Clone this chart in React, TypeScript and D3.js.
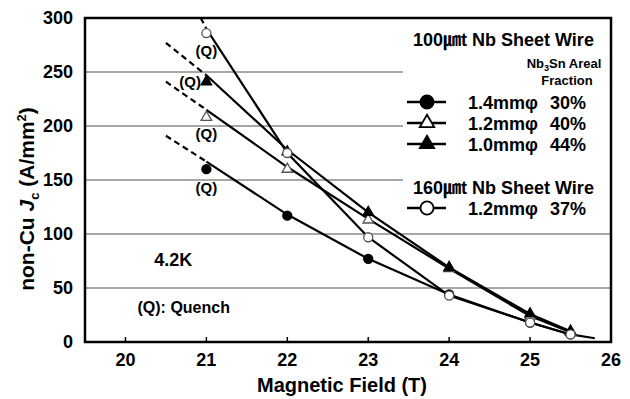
import React from "react";
import * as d3 from "d3";

type P = [number, number];

// x: magnetic field (T), y: non-Cu Jc (A/mm2)
const FIELD_TICKS = [20, 21, 22, 23, 24, 25, 26];
const JC_TICKS = [0, 50, 100, 150, 200, 250, 300];

// 100um Nb sheet wire 1.4mm 30% (filled circle)
const S30_DASH: P[] = [[20.5, 191], [21, 167]];
const S30_LINE: P[] = [[21, 167], [22, 118], [23, 77], [24, 44], [25, 18], [25.5, 7]];
const S30_PTS: P[] = [[21, 160], [22, 117], [23, 77], [24, 44], [25, 18], [25.5, 7]];

// 100um Nb sheet wire 1.2mm 40% (open triangle)
const S40_DASH: P[] = [[20.5, 241], [21, 215]];
const S40_LINE: P[] = [[21, 215], [22, 162], [23, 114], [24, 68], [25, 24], [25.5, 9]];
const S40_PTS: P[] = [[21, 208], [22, 160], [23, 113], [24, 68], [25, 24], [25.5, 9]];

// 100um Nb sheet wire 1.0mm 44% (filled triangle)
const S44_DASH: P[] = [[20.5, 277], [21, 247]];
const S44_LINE: P[] = [[21, 247], [22, 178], [23, 120], [24, 69], [25, 26], [25.5, 10]];
const S44_PTS: P[] = [[21, 241], [22, 176], [23, 120], [24, 69], [25, 26], [25.5, 10]];

// 160um Nb sheet wire 1.2mm 37% (open circle)
const S37_DASH: P[] = [[20.93, 300], [21, 290]];
const S37_LINE: P[] = [[21, 290], [22, 175], [23, 97], [24, 43], [25, 18], [25.5, 7], [25.8, 3.5]];
const S37_PTS: P[] = [[21, 286], [22, 175], [23, 97], [24, 43], [25, 18], [25.5, 7]];

// quench annotations (field, Jc)
const Q_LABELS: P[] = [[21, 270], [20.8, 241], [21, 193], [21, 143]];

const LEGEND_SIZES = ["1.4mmφ", "1.2mmφ", "1.0mmφ", "1.2mmφ"];
const LEGEND_PCTS = ["30%", "40%", "44%", "37%"];

const FONT = "'Liberation Sans', Arial, 'Noto Sans CJK JP', sans-serif";

const W = 630;
const H = 399;
const L = 85, R = 611, T = 18, B = 342;

export default function App() {
  const x = d3.scaleLinear().domain([19.5, 26]).range([L, R]);
  const y = d3.scaleLinear().domain([0, 300]).range([B, T]);
  const line = d3.line<P>().x((d) => x(d[0])).y((d) => y(d[1]));

  const circle = d3.symbol(d3.symbolCircle, 64)();
  const tri = d3.symbol(d3.symbolTriangle, 48)();
  const circleL = d3.symbol(d3.symbolCircle, 135)();
  const triL = d3.symbol(d3.symbolTriangle, 90)();

  const series = [
    { dash: S30_DASH, line: S30_LINE, pts: S30_PTS, shape: "circle", fill: true },
    { dash: S40_DASH, line: S40_LINE, pts: S40_PTS, shape: "tri", fill: false },
    { dash: S44_DASH, line: S44_LINE, pts: S44_PTS, shape: "tri", fill: true },
    { dash: S37_DASH, line: S37_LINE, pts: S37_PTS, shape: "circle", fill: false },
  ];

  const gridEnd = (v: number) => (v >= 150 ? 403 : R);

  const legendRowsY = [102, 123, 144, 208];
  const legendShapes = [
    { shape: "circle", fill: true },
    { shape: "tri", fill: false },
    { shape: "tri", fill: true },
    { shape: "circle", fill: false },
  ];

  return (
    <svg
      width={W}
      height={H}
      style={{ position: "absolute", left: 0, top: 0, background: "#fff" }}
      fontFamily={FONT}
      fontWeight="bold"
    >
      <rect x={0} y={0} width={W} height={H} fill="#fff" />
      {/* grid */}
      {JC_TICKS.filter((v) => v > 0 && v < 300).map((v) => (
        <line key={v} x1={L} x2={gridEnd(v)} y1={y(v)} y2={y(v)} stroke="#8a8a8a" strokeWidth={1.5} />
      ))}

      {/* x ticks */}
      {FIELD_TICKS.slice(0, -1).map((v) => (
        <line key={v} x1={x(v)} x2={x(v)} y1={B} y2={B - 5} stroke="#000" strokeWidth={1.5} />
      ))}

      {/* series lines */}
      {series.map((s, i) => (
        <g key={i}>
          <path d={line(s.dash) || ""} fill="none" stroke="#000" strokeWidth={2.2} strokeDasharray="6,4" />
          <path d={line(s.line) || ""} fill="none" stroke="#000" strokeWidth={2.2} />
        </g>
      ))}

      {/* markers */}
      {series.map((s, i) => (
        <g key={i}>
          {s.pts.map((p, j) => (
            <path
              key={j}
              transform={`translate(${x(p[0])},${y(p[1])})`}
              d={(s.shape === "circle" ? circle : tri) || ""}
              fill={s.fill ? "#000" : "#fff"}
              stroke={s.fill ? "#000" : "#555"}
              strokeWidth={1.3}
            />
          ))}
        </g>
      ))}

      {/* frame */}
      <rect x={L} y={T} width={R - L} height={B - T} fill="none" stroke="#000" strokeWidth={2.5} />

      {/* tick labels */}
      {JC_TICKS.map((v) => (
        <text key={v} x={73} y={y(v)} dy="0.35em" textAnchor="end" fontSize={18}>
          {v}
        </text>
      ))}
      {FIELD_TICKS.map((v) => (
        <text key={v} x={x(v)} y={366} textAnchor="middle" fontSize={18}>
          {v}
        </text>
      ))}

      {/* axis titles */}
      <text x={L + (R - L) / 2 - 6} y={392} textAnchor="middle" fontSize={20}>
        Magnetic Field (T)
      </text>
      <text transform="translate(34,199) rotate(-90)" textAnchor="middle" fontSize={21}>
        non-Cu <tspan fontStyle="italic">J</tspan>
        <tspan fontSize={13} dy={5}>c</tspan>
        <tspan dy={-5}> (A/mm</tspan>
        <tspan fontSize={13} dy={-8}>2</tspan>
        <tspan dy={8}>)</tspan>
      </text>

      {/* annotations */}
      {Q_LABELS.map((p, i) => (
        <text key={i} x={x(p[0])} y={y(p[1])} dy="0.35em" textAnchor="middle" fontSize={15}>
          (Q)
        </text>
      ))}
      <text x={x(20.59)} y={y(76)} dy="0.35em" textAnchor="middle" fontSize={18}>
        4.2K
      </text>
      <text x={x(20.72)} y={y(32)} dy="0.35em" textAnchor="middle" fontSize={16}>
        (Q): Quench
      </text>

      {/* legend */}
      <rect x={405} y={20} width={R - 407} height={208} fill="#fff" />
      <text x={413} y={46} fontSize={18}>100㎛t Nb Sheet Wire</text>
      <text x={564} y={68} textAnchor="middle" fontSize={13}>
        Nb<tspan fontSize={9} dy={3}>3</tspan>
        <tspan dy={-3}>Sn Areal</tspan>
      </text>
      <text x={567} y={85} textAnchor="middle" fontSize={13}>Fraction</text>
      <text x={413} y={194} fontSize={18}>160㎛t Nb Sheet Wire</text>
      {legendRowsY.map((ly, i) => (
        <g key={i}>
          <line x1={407} x2={446} y1={ly} y2={ly} stroke="#000" strokeWidth={2.5} />
          <path
            transform={`translate(427,${ly})`}
            d={(legendShapes[i].shape === "circle" ? circleL : triL) || ""}
            fill={legendShapes[i].fill ? "#000" : "#fff"}
            stroke="#000"
            strokeWidth={1.8}
          />
          <text x={468} y={ly + 7} fontSize={18}>{LEGEND_SIZES[i]}</text>
          <text x={550} y={ly + 7} fontSize={18}>{LEGEND_PCTS[i]}</text>
        </g>
      ))}
    </svg>
  );
}
